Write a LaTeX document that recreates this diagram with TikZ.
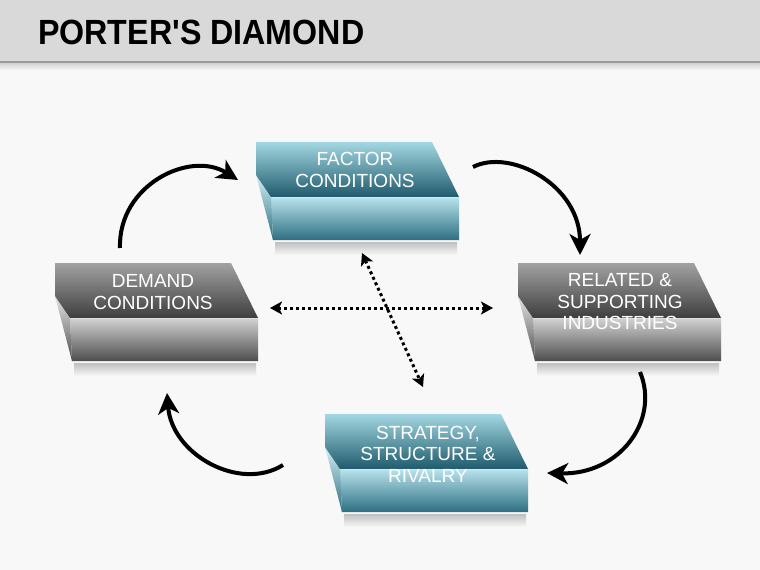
\documentclass[tikz,border=0pt]{standalone}
\usepackage{fontspec}
\setmainfont{Liberation Sans}
\newfontfamily\titlefont{Liberation Sans}[FakeStretch=0.92]
\usetikzlibrary{arrows.meta}
\definecolor{bandgray}{HTML}{D9D9D9}
\definecolor{bandline}{HTML}{9A9A9A}
\definecolor{bgcol}{HTML}{F8F8F8}
\definecolor{tealA}{HTML}{A3D7E3}
\definecolor{tealB}{HTML}{1F5B6C}
\definecolor{tealC}{HTML}{B9E3EC}
\definecolor{tealD}{HTML}{2C6F82}
\definecolor{grayA}{HTML}{A2A2A2}
\definecolor{grayB}{HTML}{3E3E3E}
\definecolor{grayC}{HTML}{D2D2D2}
\definecolor{grayD}{HTML}{4E4E4E}
\newcommand\slabdraw[6]{%
  \shade[top color=#5, bottom color=#6] (#1+15,#2+55) -- (#1+203,#2+55) -- (#1+203,#2+98) -- (#1+17,#2+98) -- cycle;
  \shade[top color=#5!60!white, bottom color=#6] (#1,#2+33) -- (#1+15,#2+55) -- (#1+17,#2+98) -- cycle;
  \shade[top color=#3, bottom color=#4] (#1,#2) -- (#1+176,#2) -- (#1+203,#2+55) -- (#1+15,#2+55) -- (#1,#2+33) -- cycle;
  \shade[top color=gray!50, bottom color=bgcol] (#1+19,#2+100) rectangle (#1+201,#2+113);
  \draw[white, opacity=0.5, line width=0.8pt] (#1+15,#2+55) -- (#1+203,#2+55);
}
\tikzset{
  lbl/.style={text=white, align=center, inner sep=0pt, font=\fontsize{19}{21.5}\selectfont},
  cyc/.style={line width=4pt, -{Stealth[length=21pt, width=21pt, inset=6pt]}},
  dots/.style={line width=3pt, dash pattern=on 3pt off 3pt, {Stealth[length=12pt,width=13pt,inset=3pt]}-{Stealth[length=12pt,width=13pt,inset=3pt]}}
}
\begin{document}
\begin{tikzpicture}[x=1pt, y=-1pt]
\useasboundingbox (0,0) rectangle (760,570);
\fill[bgcol] (0,0) rectangle (760,570);
\fill[bandgray] (0,0) rectangle (760,61.5);
\shade[top color=gray!40, bottom color=bgcol] (0,62) rectangle (760,70);
\draw[bandline, line width=2pt] (0,62) -- (760,62);
\node[anchor=base west, inner sep=0pt, font=\titlefont\bfseries\fontsize{35}{40}\selectfont] (title) at (38,44) {PORTER'S DIAMOND};

% blocks
\slabdraw{256}{142}{tealA}{tealB}{tealC}{tealD}
\slabdraw{55}{263}{grayA}{grayB}{grayC}{grayD}
\slabdraw{518}{263}{grayA}{grayB}{grayC}{grayD}
\slabdraw{325}{414}{tealA}{tealB}{tealC}{tealD}

\node[lbl] (factor) at (355,170) {FACTOR\\CONDITIONS};
\node[lbl] (demand) at (153,292) {DEMAND\\CONDITIONS};
\node[lbl] (related) at (620,302) {RELATED \&\\SUPPORTING\\INDUSTRIES};
\node[lbl] (strategy) at (428,454) {STRATEGY,\\STRUCTURE \&\\RIVALRY};

% arrow end points
\coordinate (a1s) at (120,248);
\coordinate (a1e) at (238,180);
\coordinate (a2s) at (473,167);
\coordinate (a2e) at (580,255);
\coordinate (a3s) at (640,372);
\coordinate (a3e) at (547,473);
\coordinate (a4s) at (283,465);
\coordinate (a4e) at (167,393);
\coordinate (h1) at (270,308);
\coordinate (h2) at (493,308);
\coordinate (d1) at (362,253);
\coordinate (d2) at (423,387);

\draw[cyc] (a1s) .. controls (118,185) and (190,150) .. (a1e);
\draw[cyc] (a2s) .. controls (510,148) and (580,185) .. (a2e);
\draw[cyc] (a3s) .. controls (660,420) and (620,475) .. (a3e);
\draw[cyc] (a4s) .. controls (240,492) and (172,455) .. (a4e);

\draw[dots] (h1) -- (h2);
\draw[dots] (d1) -- (d2);
\end{tikzpicture}
\end{document}
